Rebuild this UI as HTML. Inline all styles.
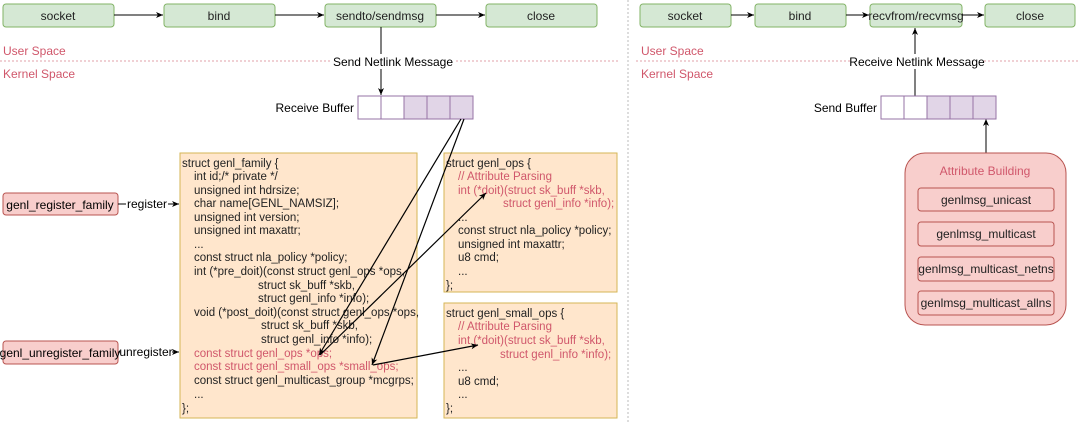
<!DOCTYPE html>
<html><head><meta charset="utf-8"><style>
html,body{margin:0;padding:0;background:#fff;}
svg{display:block;font-family:"Liberation Sans",Arial,sans-serif;}
</style></head><body>
<svg width="1080" height="423" viewBox="0 0 1080 423" xmlns="http://www.w3.org/2000/svg">
<defs>
<marker id="a" markerWidth="8" markerHeight="8" refX="7" refY="4" orient="auto" markerUnits="userSpaceOnUse"><path d="M0,1 L7,4 L0,7 L2,4 z" fill="#000"/></marker>
<marker id="b" markerWidth="8" markerHeight="8" refX="1" refY="4" orient="auto" markerUnits="userSpaceOnUse"><path d="M8,1 L1,4 L8,7 L6,4 z" fill="#000"/></marker>
</defs>
<!-- dividers -->
<line x1="0" y1="61" x2="620" y2="61" stroke="#e0a0a8" stroke-dasharray="2,2"/>
<line x1="636" y1="61" x2="1080" y2="61" stroke="#e0a0a8" stroke-dasharray="2,2"/>
<line x1="628" y1="0" x2="628" y2="423" stroke="#bbb" stroke-dasharray="2,2"/>
<g font-size="12" fill="#d0576b">
<text x="3" y="55">User Space</text><text x="3" y="78">Kernel Space</text>
<text x="641" y="55">User Space</text><text x="641" y="78">Kernel Space</text>
</g>
<!-- top boxes -->
<g fill="#d5e8d4" stroke="#82b366">
<rect x="3" y="4" width="111" height="23" rx="3"/><rect x="164" y="4" width="111" height="23" rx="3"/>
<rect x="325" y="4" width="111" height="23" rx="3"/><rect x="486" y="4" width="111" height="23" rx="3"/>
<rect x="640" y="4" width="91" height="23" rx="3"/><rect x="755" y="4" width="91" height="23" rx="3"/>
<rect x="870" y="4" width="92" height="23" rx="3"/><rect x="985" y="4" width="90" height="23" rx="3"/>
</g>
<g font-size="12" fill="#222" text-anchor="middle">
<text x="58" y="20">socket</text><text x="219" y="20">bind</text><text x="380" y="20">sendto/sendmsg</text><text x="541" y="20">close</text>
<text x="685" y="20">socket</text><text x="800" y="20">bind</text><text x="916" y="20">recvfrom/recvmsg</text><text x="1030" y="20">close</text>
</g>
<g stroke="#000" stroke-width="1" marker-end="url(#a)">
<line x1="114" y1="15" x2="163" y2="15"/><line x1="275" y1="15" x2="324" y2="15"/><line x1="436" y1="15" x2="485" y2="15"/>
<line x1="731" y1="15" x2="754" y2="15"/><line x1="846" y1="15" x2="869" y2="15"/><line x1="962" y1="15" x2="984" y2="15"/>
<line x1="381" y1="27" x2="381" y2="95"/>
<line x1="915" y1="96" x2="915" y2="28"/>
<line x1="986" y1="153" x2="986" y2="119"/>
</g>
<rect x="332" y="54" width="122" height="15" fill="#fff"/>
<text x="393" y="66" font-size="12" text-anchor="middle">Send Netlink Message</text>
<rect x="850" y="54" width="134" height="15" fill="#fff"/>
<text x="917" y="66" font-size="12" text-anchor="middle">Receive Netlink Message</text>
<!-- buffers -->
<text x="354" y="112" font-size="12" text-anchor="end">Receive Buffer</text>
<g stroke="#9673a6">
<rect x="358" y="96" width="23" height="23" fill="#fff"/><rect x="381" y="96" width="23" height="23" fill="#fff"/>
<rect x="404" y="96" width="23" height="23" fill="#e1d5e7"/><rect x="427" y="96" width="23" height="23" fill="#e1d5e7"/><rect x="450" y="96" width="23" height="23" fill="#e1d5e7"/>
<rect x="881" y="96" width="23" height="23" fill="#fff"/><rect x="904" y="96" width="23" height="23" fill="#fff"/>
<rect x="927" y="96" width="23" height="23" fill="#e1d5e7"/><rect x="950" y="96" width="23" height="23" fill="#e1d5e7"/><rect x="973" y="96" width="23" height="23" fill="#e1d5e7"/>
</g>
<text x="877" y="112" font-size="12" text-anchor="end">Send Buffer</text>
<!-- attribute building -->
<rect x="905" y="153" width="161" height="172" rx="20" fill="#f8cecc" stroke="#b85450"/>
<text x="985" y="175" font-size="12" fill="#d0576b" text-anchor="middle">Attribute Building</text>
<g fill="#f8cecc" stroke="#b85450">
<rect x="918" y="188" width="136" height="23" rx="3"/><rect x="918" y="222" width="136" height="24" rx="3"/>
<rect x="918" y="257" width="136" height="24" rx="3"/><rect x="918" y="291" width="136" height="24" rx="3"/>
</g>
<g font-size="12" fill="#222" text-anchor="middle">
<text x="986" y="204">genlmsg_unicast</text><text x="986" y="238">genlmsg_multicast</text>
<text x="986" y="273">genlmsg_multicast_netns</text><text x="986" y="307">genlmsg_multicast_allns</text>
</g>
<!-- left register boxes -->
<rect x="3" y="193" width="115" height="22" rx="3" fill="#f8cecc" stroke="#b85450"/>
<rect x="3" y="341" width="115" height="23" rx="3" fill="#f8cecc" stroke="#b85450"/>
<text x="60" y="209" font-size="12" text-anchor="middle">genl_register_family</text>
<text x="60" y="357" font-size="12" text-anchor="middle">genl_unregister_family</text>
<g stroke="#000" marker-end="url(#a)"><line x1="118" y1="204" x2="179" y2="204"/><line x1="118" y1="352" x2="179" y2="352"/></g>
<rect x="126" y="197" width="42" height="14" fill="#fff"/><text x="147" y="208" font-size="12" text-anchor="middle">register</text>
<rect x="120" y="345" width="52" height="14" fill="#fff"/><text x="146" y="356" font-size="12" text-anchor="middle">unregister</text>
<!-- struct boxes -->
<rect x="180" y="153" width="237" height="265" fill="#ffe6cc" stroke="#d6b656"/>
<rect x="444" y="153" width="173" height="139" fill="#ffe6cc" stroke="#d6b656"/>
<rect x="444" y="303" width="173" height="115" fill="#ffe6cc" stroke="#d6b656"/>
<g font-size="11.5" fill="#222">
<text x="182" y="167">struct genl_family {</text>
<text x="194" y="180">int id;/* private */</text>
<text x="194" y="194">unsigned int hdrsize;</text>
<text x="194" y="207">char name[GENL_NAMSIZ];</text>
<text x="194" y="221">unsigned int version;</text>
<text x="194" y="234">unsigned int maxattr;</text>
<text x="194" y="248">...</text>
<text x="194" y="261">const struct nla_policy *policy;</text>
<text x="194" y="275">int (*pre_doit)(const struct genl_ops *ops,</text>
<text x="258" y="289">struct sk_buff *skb,</text>
<text x="258" y="302">struct genl_info *info);</text>
<text x="194" y="316">void (*post_doit)(const struct genl_ops *ops,</text>
<text x="261" y="329">struct sk_buff *skb,</text>
<text x="261" y="343">struct genl_info *info);</text>
<text x="194" y="357" fill="#d0576b">const struct genl_ops *ops;</text>
<text x="194" y="370" fill="#d0576b">const struct genl_small_ops *small_ops;</text>
<text x="194" y="384">const struct genl_multicast_group *mcgrps;</text>
<text x="194" y="398">...</text>
<text x="182" y="412">};</text>

<text x="446" y="167">struct genl_ops {</text>
<text x="458" y="180" fill="#d0576b">// Attribute Parsing</text>
<text x="458" y="194" fill="#d0576b">int (*doit)(struct sk_buff *skb,</text>
<text x="503" y="207" fill="#d0576b">struct genl_info *info);</text>
<text x="458" y="221">...</text>
<text x="458" y="234">const struct nla_policy *policy;</text>
<text x="458" y="248">unsigned int maxattr;</text>
<text x="458" y="261">u8 cmd;</text>
<text x="458" y="275">...</text>
<text x="446" y="289">};</text>

<text x="446" y="317">struct genl_small_ops {</text>
<text x="458" y="330" fill="#d0576b">// Attribute Parsing</text>
<text x="458" y="344" fill="#d0576b">int (*doit)(struct sk_buff *skb,</text>
<text x="500" y="358" fill="#d0576b">struct genl_info *info);</text>
<text x="458" y="371">...</text>
<text x="458" y="385">u8 cmd;</text>
<text x="458" y="398">...</text>
<text x="446" y="412">};</text>
</g>
<!-- pointer arrows -->
<g stroke="#000" stroke-width="1.2" fill="none">
<line x1="461" y1="119" x2="319" y2="355" marker-end="url(#a)"/>
<line x1="464" y1="119" x2="372" y2="365" marker-end="url(#a)"/>
<line x1="320" y1="355" x2="486" y2="193" marker-end="url(#a)"/>
<line x1="373" y1="365" x2="478" y2="345" marker-end="url(#a)"/>
</g>
</svg>
</body></html>
